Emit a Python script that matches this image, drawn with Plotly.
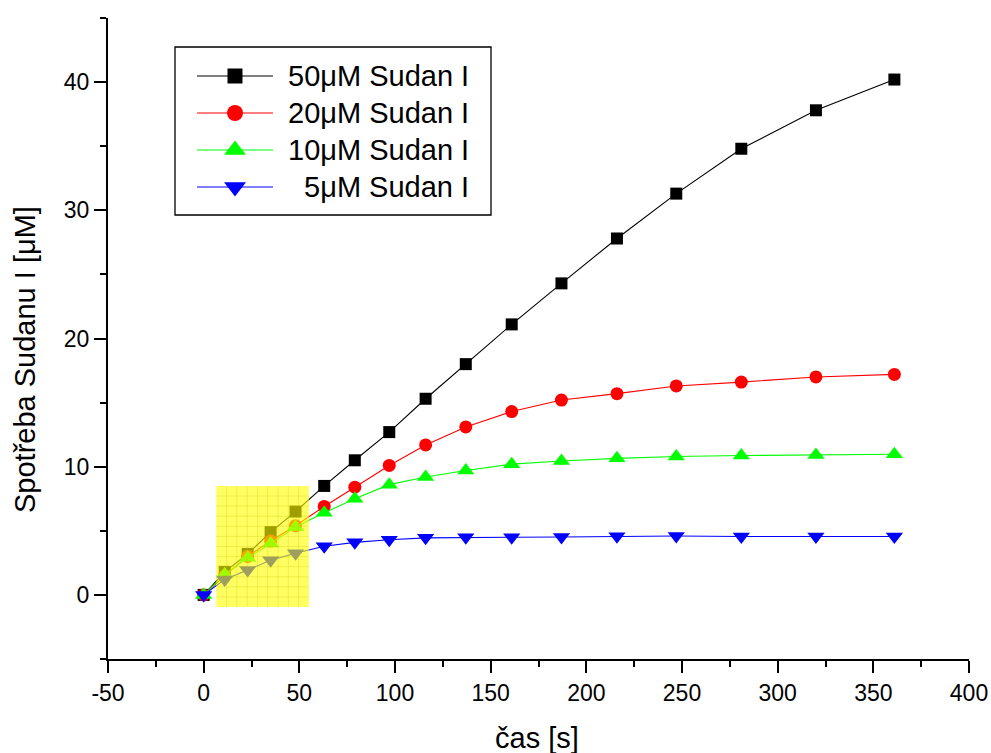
import plotly.graph_objects as go

# Time points (s) shared by all series
time_s = [0, 11, 23, 35, 48, 63, 79, 97, 116, 137, 161, 187, 216, 247, 281, 320, 361]

# Consumption of Sudan I (uM) for each starting concentration
sudan_50 = [0, 1.8, 3.2, 4.9, 6.5, 8.5, 10.5, 12.7, 15.3, 18.0, 21.1, 24.3, 27.8, 31.3, 34.8, 37.8, 40.2]
sudan_20 = [0, 1.5, 3.0, 4.2, 5.4, 6.9, 8.4, 10.1, 11.7, 13.1, 14.3, 15.2, 15.7, 16.3, 16.6, 17.0, 17.2]
sudan_10 = [0, 1.6, 2.9, 4.0, 5.3, 6.4, 7.5, 8.6, 9.2, 9.7, 10.2, 10.45, 10.65, 10.8, 10.87, 10.92, 10.97]
sudan_5 = [0, 1.2, 1.95, 2.7, 3.25, 3.8, 4.1, 4.3, 4.45, 4.5, 4.5, 4.52, 4.58, 4.6, 4.55, 4.55, 4.55]

series_names = ["50μM Sudan I", "20μM Sudan I", "10μM Sudan I", " 5μM Sudan I"]
series_values = [sudan_50, sudan_20, sudan_10, sudan_5]
series_colors = ["#000000", "#FF0000", "#00FF00", "#0000FF"]
series_symbols = ["square", "circle", "triangle-up", "triangle-down"]
marker_sizes = [12, 13, 15, 15]
legend_marker_sizes = [15, 16, 19, 19]

# Axis ticks (plain hyphen for negatives)
x_tick_vals = [-50, 0, 50, 100, 150, 200, 250, 300, 350, 400]
x_tick_text = ["-50", "0", "50", "100", "150", "200", "250", "300", "350", "400"]
y_tick_vals = [0, 10, 20, 30, 40]
y_tick_text = ["0", "10", "20", "30", "40"]

# Highlighted initial-rate window (data coordinates)
hl_x = (6.6, 55.0)
hl_y = (-0.95, 8.5)
hl_cols, hl_rows = 9, 12

FONT = "Liberation Sans, Arial, sans-serif"

fig = go.Figure()

for name, vals, col, sym, ms in zip(series_names, series_values, series_colors,
                                    series_symbols, marker_sizes):
    fig.add_trace(go.Scatter(
        x=time_s, y=vals, mode="lines+markers", name=name.strip(),
        line=dict(color=col, width=1.1),
        marker=dict(symbol=sym, size=ms, color=col, line=dict(width=0)),
        showlegend=False,
    ))

# Plot area in pixels
W, H = 991, 753
ML, MR, MT, MB = 108, 22, 18, 94
PW, PH = W - ML - MR, H - MT - MB


def px(xp):
    return (xp - ML) / PW


def py(yp):
    return (H - MB - yp) / PH


# Legend drawn on a hidden overlay axis laid out in paper units
leg_box = (175, 47, 491, 215)
leg_rows = [76, 113, 150, 187]
leg_line = (197, 273)
leg_text_right = 471

for name, col, sym, ms, ry in zip(series_names, series_colors, series_symbols,
                                  legend_marker_sizes, leg_rows):
    fig.add_trace(go.Scatter(
        x=[px(leg_line[0]), px(leg_line[1])], y=[py(ry), py(ry)],
        mode="lines", line=dict(color=col, width=1.1),
        xaxis="x2", yaxis="y2", showlegend=False, hoverinfo="skip",
    ))
    fig.add_trace(go.Scatter(
        x=[px((leg_line[0] + leg_line[1]) / 2)], y=[py(ry)],
        mode="markers", marker=dict(symbol=sym, size=ms, color=col, line=dict(width=0)),
        xaxis="x2", yaxis="y2", showlegend=False, hoverinfo="skip",
    ))
    fig.add_annotation(
        x=px(leg_text_right), y=py(ry), xref="paper", yref="paper",
        text=name.replace(" ", "&nbsp;", 1) if name.startswith(" ") else name,
        showarrow=False, xanchor="right", yanchor="middle",
        font=dict(family=FONT, size=29, color="black"),
    )

fig.add_shape(type="rect", xref="paper", yref="paper",
              x0=px(leg_box[0]), x1=px(leg_box[2]), y0=py(leg_box[3]), y1=py(leg_box[1]),
              line=dict(color="black", width=1.3), fillcolor="rgba(0,0,0,0)", layer="below")

# Semi-transparent highlight with a fine grid
fig.add_shape(type="rect", xref="x", yref="y",
              x0=hl_x[0], x1=hl_x[1], y0=hl_y[0], y1=hl_y[1],
              fillcolor="rgba(255,255,0,0.62)", line=dict(width=0), layer="above")
for i in range(1, hl_cols):
    gx = hl_x[0] + (hl_x[1] - hl_x[0]) * i / hl_cols
    fig.add_shape(type="line", xref="x", yref="y", x0=gx, x1=gx, y0=hl_y[0], y1=hl_y[1],
                  line=dict(color="rgba(190,190,0,0.25)", width=1), layer="above")
for j in range(1, hl_rows):
    gy = hl_y[0] + (hl_y[1] - hl_y[0]) * j / hl_rows
    fig.add_shape(type="line", xref="x", yref="y", x0=hl_x[0], x1=hl_x[1], y0=gy, y1=gy,
                  line=dict(color="rgba(190,190,0,0.25)", width=1), layer="above")

# Axis titles
fig.add_annotation(text="čas [s]", xref="paper", yref="paper",
                   x=px(537), y=py(738), showarrow=False,
                   xanchor="center", yanchor="middle",
                   font=dict(family=FONT, size=29, color="black"))
fig.add_annotation(text="Spotřeba Sudanu I [μM]", xref="paper", yref="paper",
                   x=px(25), y=py(360), showarrow=False, textangle=-90,
                   xanchor="center", yanchor="middle",
                   font=dict(family=FONT, size=29, color="black"))

axis_common = dict(
    showgrid=False, zeroline=False, showline=True, linecolor="black", linewidth=2,
    ticks="outside", ticklen=12, tickwidth=2, tickcolor="black", automargin=False,
    tickfont=dict(family=FONT, size=23, color="black"),
)

fig.update_layout(
    width=W, height=H,
    margin=dict(l=ML, r=MR, t=MT, b=MB, autoexpand=False),
    paper_bgcolor="white", plot_bgcolor="white",
    showlegend=False,
    xaxis=dict(range=[-50, 400], tickmode="array", tickvals=x_tick_vals, ticktext=x_tick_text,
               minor=dict(dtick=25, tick0=0, ticks="outside", ticklen=6, tickwidth=2,
                          tickcolor="black"),
               **axis_common),
    yaxis=dict(range=[-5, 45], tickmode="array", tickvals=y_tick_vals, ticktext=y_tick_text,
               minor=dict(dtick=5, tick0=0, ticks="outside", ticklen=6, tickwidth=2,
                          tickcolor="black"),
               **axis_common),
    xaxis2=dict(range=[0, 1], domain=[0, 1], overlaying="x", visible=False, fixedrange=True,
                automargin=False),
    yaxis2=dict(range=[0, 1], domain=[0, 1], overlaying="y", visible=False, fixedrange=True,
                automargin=False),
)

fig.write_html("out.html")
